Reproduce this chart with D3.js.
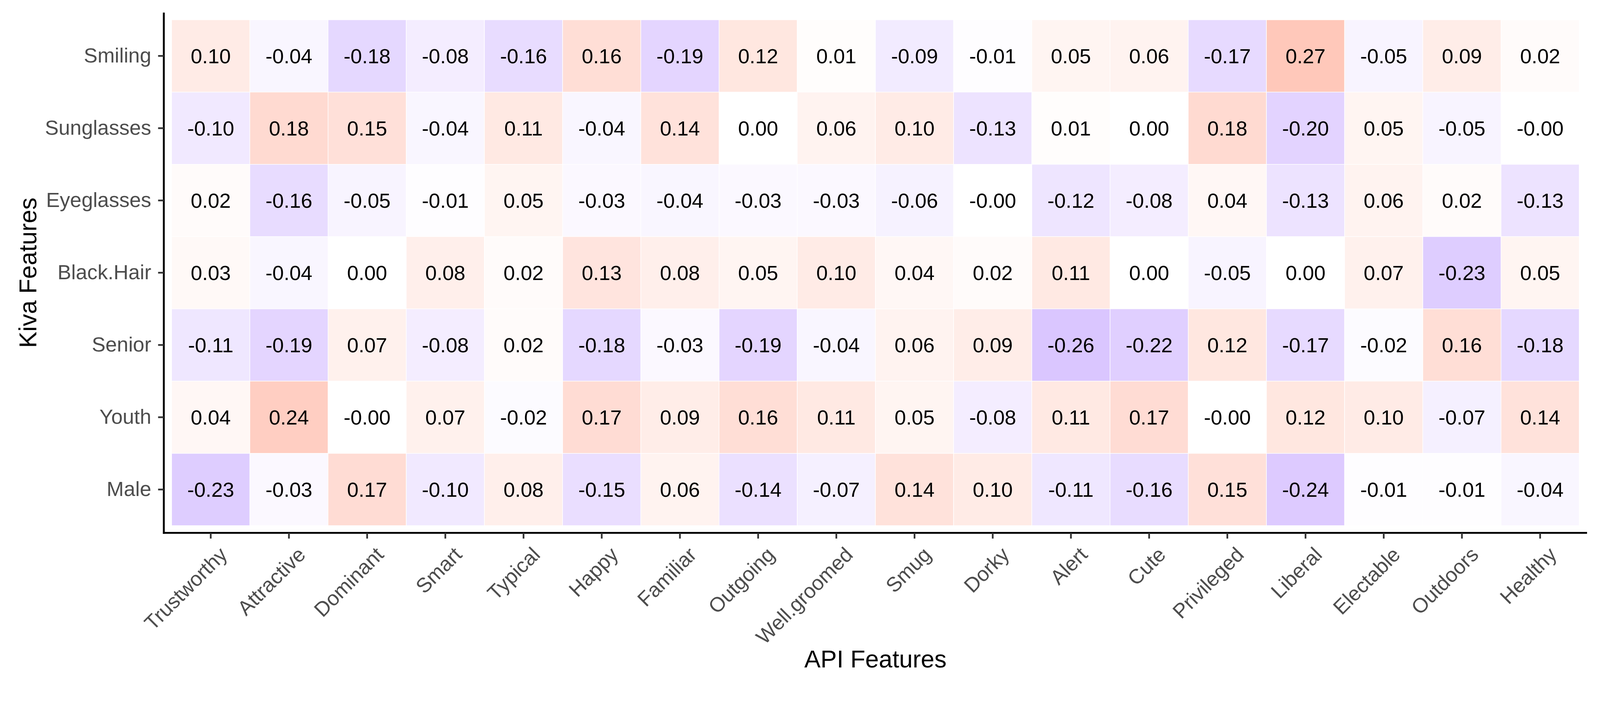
<!DOCTYPE html>
<html>
<head>
<meta charset="utf-8">
<script src="https://cdn.jsdelivr.net/npm/d3@7"></script>
<style>
  html,body{margin:0;padding:0;background:#fff;overflow:hidden;}
  svg{display:block;width:100vw;height:100vh;}
  text{font-family:"Liberation Sans",Arial,Helvetica,sans-serif;}
</style>
</head>
<body>
<svg id="chart"></svg>
<script>
const apiFeatures=['Trustworthy','Attractive','Dominant','Smart','Typical','Happy','Familiar','Outgoing','Well.groomed','Smug','Dorky','Alert','Cute','Privileged','Liberal','Electable','Outdoors','Healthy']
const kivaFeatures=['Smiling','Sunglasses','Eyeglasses','Black.Hair','Senior','Youth','Male']

// one array per kiva feature, same order as apiFeatures (-0.001 shows as -0.00)
const smiling=[0.10,-0.04,-0.18,-0.08,-0.16,0.16,-0.19,0.12,0.01,-0.09,-0.01,0.05,0.06,-0.17,0.27,-0.05,0.09,0.02]
const sunglasses=[-0.10,0.18,0.15,-0.04,0.11,-0.04,0.14,0.00,0.06,0.10,-0.13,0.01,0.00,0.18,-0.20,0.05,-0.05,-0.001]
const eyeglasses=[0.02,-0.16,-0.05,-0.01,0.05,-0.03,-0.04,-0.03,-0.03,-0.06,-0.001,-0.12,-0.08,0.04,-0.13,0.06,0.02,-0.13]
const blackHair=[0.03,-0.04,0.00,0.08,0.02,0.13,0.08,0.05,0.10,0.04,0.02,0.11,0.00,-0.05,0.00,0.07,-0.23,0.05]
const senior=[-0.11,-0.19,0.07,-0.08,0.02,-0.18,-0.03,-0.19,-0.04,0.06,0.09,-0.26,-0.22,0.12,-0.17,-0.02,0.16,-0.18]
const youth=[0.04,0.24,-0.001,0.07,-0.02,0.17,0.09,0.16,0.11,0.05,-0.08,0.11,0.17,-0.001,0.12,0.10,-0.07,0.14]
const male=[-0.23,-0.03,0.17,-0.10,0.08,-0.15,0.06,-0.14,-0.07,0.14,0.10,-0.11,-0.16,0.15,-0.24,-0.01,-0.01,-0.04]

const rows=[smiling,sunglasses,eyeglasses,blackHair,senior,youth,male]

const width=4200, height=1800
const panelLeft=430, panelRight=4166, panelTop=33, panelBottom=1399

const cells=[]
rows.forEach((r,j)=>r.forEach((v,i)=>cells.push({api:apiFeatures[i],kiva:kivaFeatures[j],value:v})))

// viewBox so the whole chart fits whatever the real viewport width is
const svg=d3.select('#chart')
  .attr('viewBox',`0 0 ${width} ${height}`)
  .attr('preserveAspectRatio','xMinYMin meet')

const xScale=d3.scaleBand().domain(apiFeatures).range([panelLeft,panelRight]).paddingInner(0).paddingOuter(0.1)
const yScale=d3.scaleBand().domain(kivaFeatures).range([panelTop,panelBottom]).paddingInner(0).paddingOuter(0.1)

const color=d3.scaleLinear().domain([-1,0,1]).range(['#7124ff','#ffffff','#ff3300']).interpolate(d3.interpolateRgb)

svg.append('g').selectAll('rect').data(cells).join('rect')
  .attr('x',d=>xScale(d.api))
  .attr('y',d=>yScale(d.kiva))
  .attr('width',xScale.bandwidth())
  .attr('height',yScale.bandwidth())
  .attr('fill',d=>color(d.value))
  .attr('stroke','#ffffff')
  .attr('stroke-width',1.5)

svg.append('g').selectAll('text').data(cells).join('text')
  .attr('x',d=>xScale(d.api)+xScale.bandwidth()/2)
  .attr('y',d=>yScale(d.kiva)+yScale.bandwidth()/2)
  .attr('dy','0.36em')
  .attr('text-anchor','middle')
  .attr('font-size',54)
  .attr('fill','#000')
  .text(d=>d.value.toFixed(2))

// axes
const xAxis=d3.axisBottom(xScale).tickSize(15).tickSizeOuter(0)
const yAxis=d3.axisLeft(yScale).tickSize(15).tickSizeOuter(0).tickPadding(18)

const gx=svg.append('g').attr('transform',`translate(0,${panelBottom})`).call(xAxis)
const gy=svg.append('g').attr('transform',`translate(${panelLeft},0)`).call(yAxis)

gx.select('.domain').attr('stroke','#000').attr('stroke-width',5).attr('d',`M${panelLeft-2.5},0H${panelRight}`)
gy.select('.domain').attr('stroke','#000').attr('stroke-width',5).attr('d',`M0,${panelTop}V${panelBottom+2.5}`)
svg.selectAll('.tick line').attr('stroke','#333').attr('stroke-width',4.5)

gx.selectAll('.tick text')
  .attr('y',0).attr('x',0).attr('dy','0.75em')
  .attr('transform','translate(18,32) rotate(-45)')
  .attr('text-anchor','end')
  .attr('font-size',54)
  .attr('fill','#4d4d4d')

gy.selectAll('.tick text')
  .attr('font-size',54)
  .attr('fill','#4d4d4d')

// titles
svg.append('text')
  .attr('x',(panelLeft+panelRight)/2).attr('y',1752)
  .attr('text-anchor','middle')
  .attr('font-size',64)
  .text('API Features')

svg.append('text')
  .attr('transform',`translate(72,${(panelTop+panelBottom)/2}) rotate(-90)`)
  .attr('dy','0.36em')
  .attr('text-anchor','middle')
  .attr('font-size',64)
  .text('Kiva Features')
</script>
</body>
</html>
